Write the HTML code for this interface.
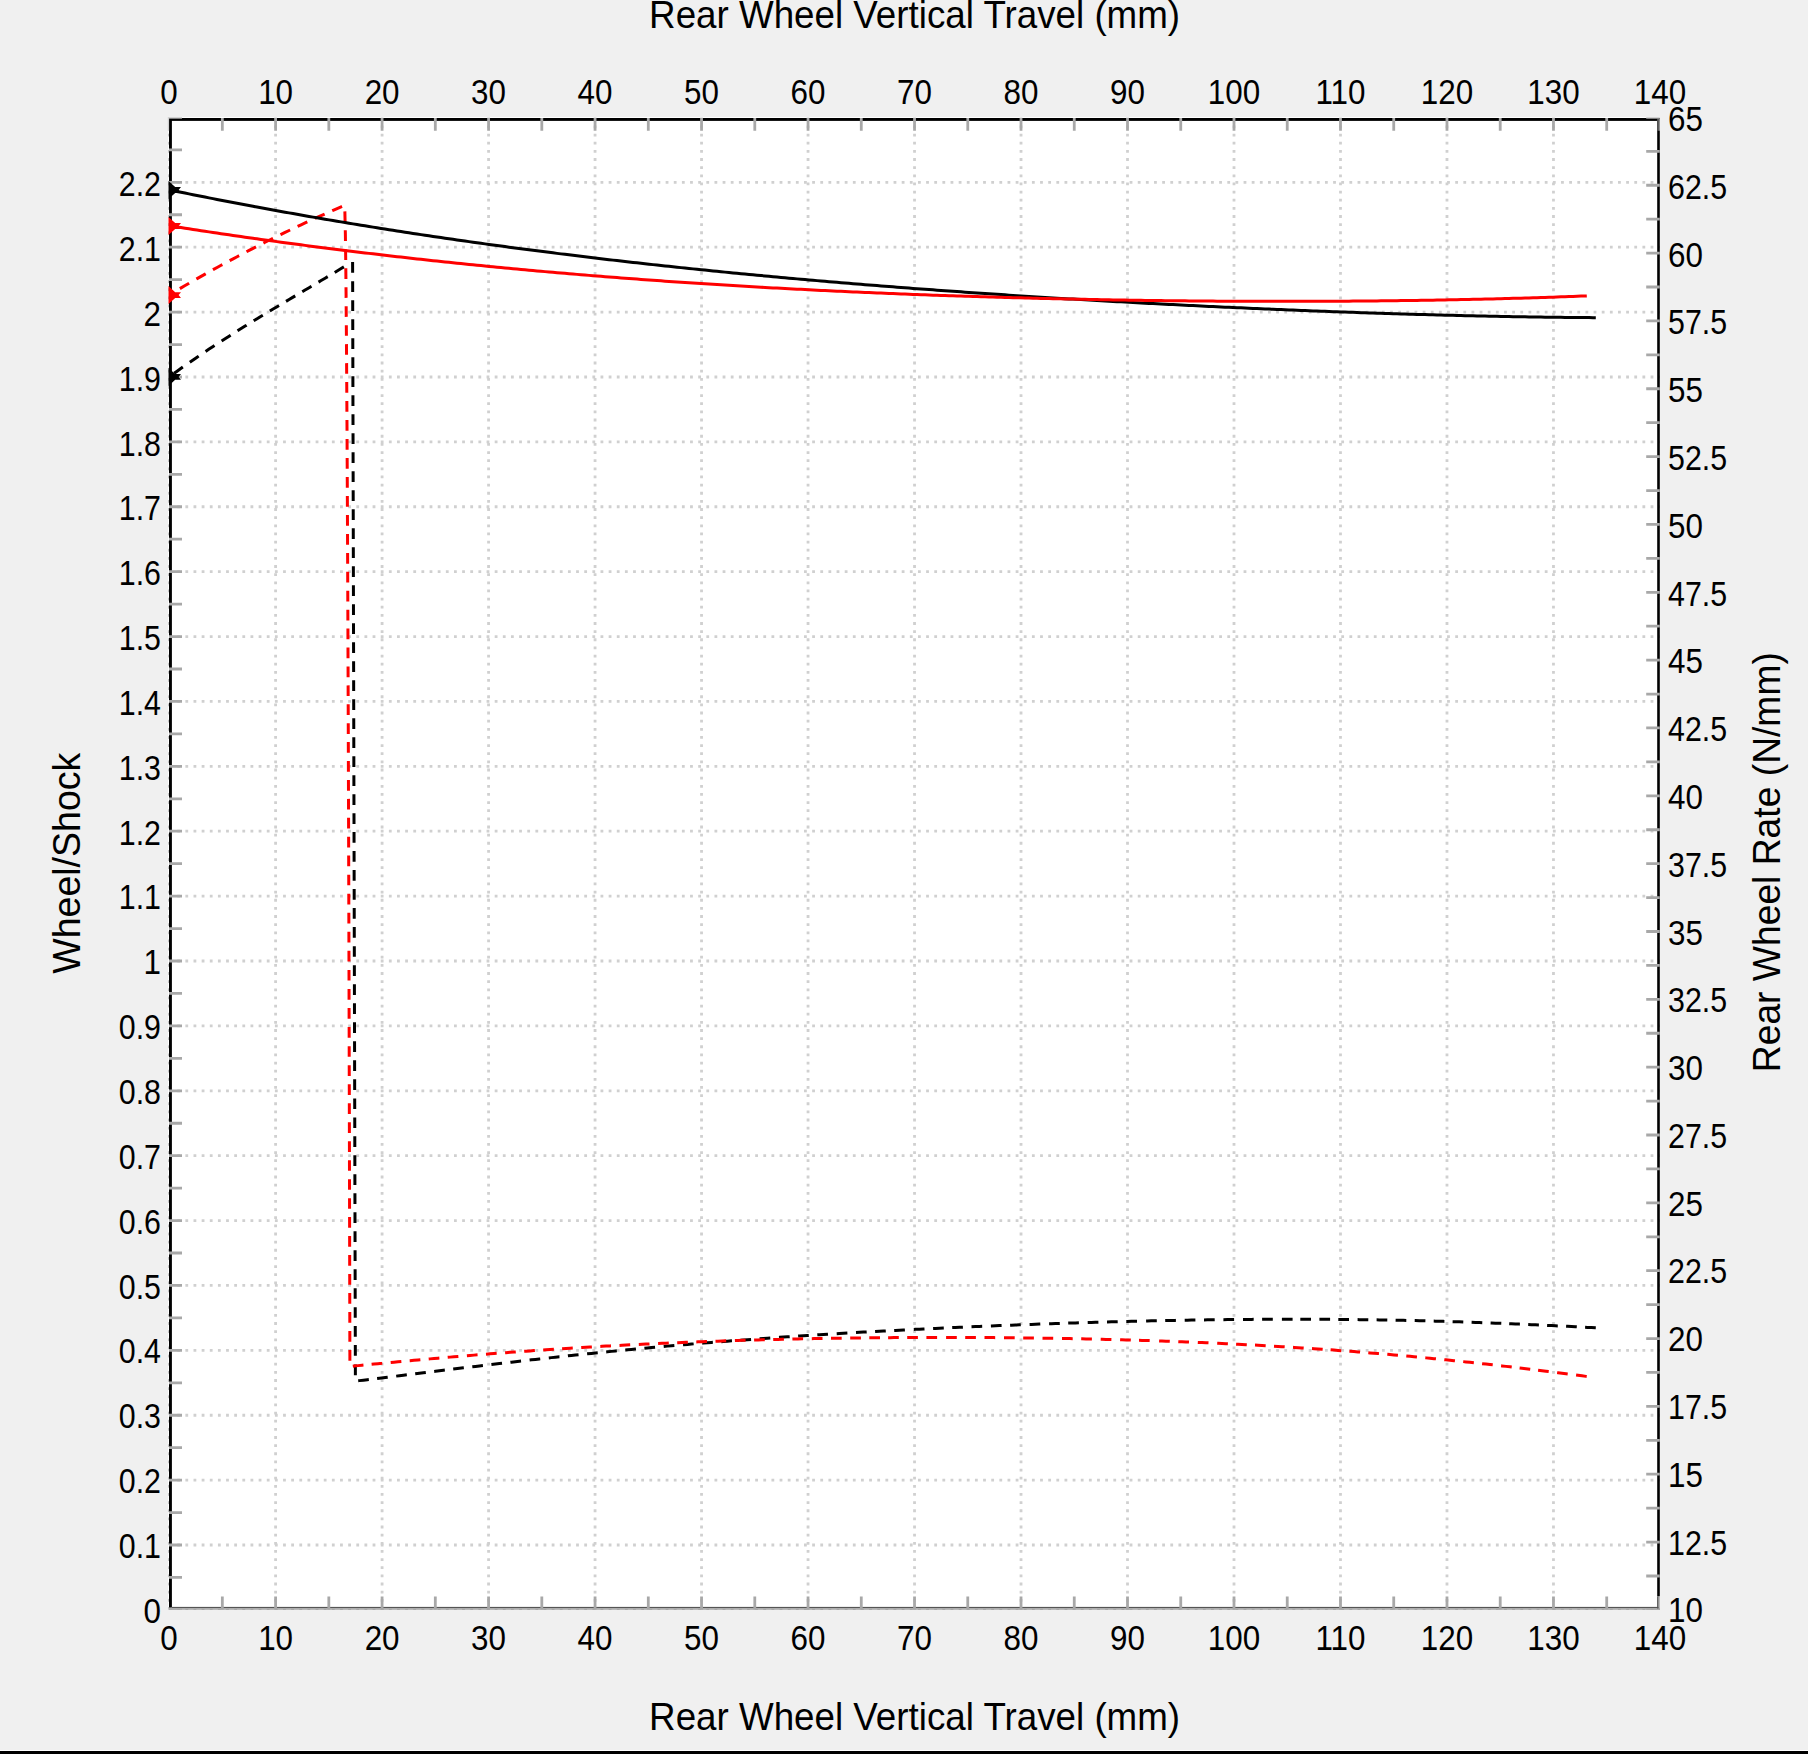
<!DOCTYPE html><html><head><meta charset="utf-8"><title>Rear Wheel Chart</title>
<style>html,body{margin:0;padding:0;background:#f0f0f0;overflow:hidden}svg{display:block}text{font-family:'Liberation Sans', Arial, sans-serif;fill:#000}</style></head><body>
<svg width="1808" height="1754" viewBox="0 0 1808 1754">
<defs><clipPath id="pc"><rect x="169.1" y="117.4" width="1490.9" height="1492.5"/></clipPath><clipPath id="tc"><rect x="160" y="117.4" width="1510" height="1492.4"/></clipPath><clipPath id="mc"><rect x="168.5" y="100" width="40" height="400"/></clipPath></defs>
<rect width="1808" height="1754" fill="#f0f0f0"/>
<rect x="0" y="1750" width="1808" height="1" fill="#ffffff"/>
<rect x="0" y="1751" width="1808" height="3" fill="#000000"/>
<rect x="168" y="117" width="1492.0" height="1492.9" fill="#ffffff"/>
<path d="M169.1 1545.01H1660.0M169.1 1480.12H1660.0M169.1 1415.23H1660.0M169.1 1350.34H1660.0M169.1 1285.45H1660.0M169.1 1220.56H1660.0M169.1 1155.67H1660.0M169.1 1090.78H1660.0M169.1 1025.89H1660.0M169.1 961.00H1660.0M169.1 896.11H1660.0M169.1 831.22H1660.0M169.1 766.33H1660.0M169.1 701.44H1660.0M169.1 636.55H1660.0M169.1 571.66H1660.0M169.1 506.77H1660.0M169.1 441.88H1660.0M169.1 376.99H1660.0M169.1 312.10H1660.0M169.1 247.21H1660.0M169.1 182.32H1660.0" stroke="#d0d0d0" stroke-width="2.8" stroke-dasharray="2.8 5.34" fill="none"/>
<path d="M275.59 117.4V1609.9M382.08 117.4V1609.9M488.57 117.4V1609.9M595.06 117.4V1609.9M701.55 117.4V1609.9M808.04 117.4V1609.9M914.53 117.4V1609.9M1021.02 117.4V1609.9M1127.51 117.4V1609.9M1234.00 117.4V1609.9M1340.49 117.4V1609.9M1446.98 117.4V1609.9M1553.47 117.4V1609.9" stroke="#d0d0d0" stroke-width="2.8" stroke-dasharray="2.8 5.34" fill="none"/>
<path d="M168.5 117.4V1609.9" stroke="#c4c4c4" stroke-width="1" stroke-dasharray="2.8 5.34" fill="none"/>
<path d="M169.1 1609.3H1660.0" stroke="#a8a8a8" stroke-width="1.2" stroke-dasharray="2.8 5.34" fill="none"/>
<rect x="172" y="1606.9" width="1486.7" height="1.2" fill="#555"/>
<rect x="169" y="1608.1" width="1490.8" height="1.7" fill="#a8a8a8"/>
<rect x="169" y="118" width="1490.8" height="2.9" fill="#000"/>
<rect x="169" y="118" width="2.9" height="1489.6" fill="#000"/>
<rect x="1657.2" y="118" width="2.6" height="1478.4" fill="#000"/>
<rect x="1657.1" y="1596.4" width="1.6" height="12.6" fill="#555"/>
<rect x="1658.7" y="1596.4" width="1.1" height="13.4" fill="#a8a8a8"/>
<rect x="167.8" y="117" width="1.3" height="13.8" fill="#d2d2d2"/>
<rect x="1657.1" y="118.7" width="1.6" height="12.1" fill="#555"/>
<rect x="1658.7" y="118.7" width="1.1" height="12.1" fill="#a8a8a8"/>
<g clip-path="url(#tc)"><path d="M222.34 118V130.8M222.34 1596.4V1609.8M275.59 118V130.8M275.59 1596.4V1609.8M328.83 118V130.8M328.83 1596.4V1609.8M382.08 118V130.8M382.08 1596.4V1609.8M435.32 118V130.8M435.32 1596.4V1609.8M488.57 118V130.8M488.57 1596.4V1609.8M541.81 118V130.8M541.81 1596.4V1609.8M595.06 118V130.8M595.06 1596.4V1609.8M648.30 118V130.8M648.30 1596.4V1609.8M701.55 118V130.8M701.55 1596.4V1609.8M754.79 118V130.8M754.79 1596.4V1609.8M808.04 118V130.8M808.04 1596.4V1609.8M861.28 118V130.8M861.28 1596.4V1609.8M914.53 118V130.8M914.53 1596.4V1609.8M967.77 118V130.8M967.77 1596.4V1609.8M1021.02 118V130.8M1021.02 1596.4V1609.8M1074.26 118V130.8M1074.26 1596.4V1609.8M1127.51 118V130.8M1127.51 1596.4V1609.8M1180.75 118V130.8M1180.75 1596.4V1609.8M1234.00 118V130.8M1234.00 1596.4V1609.8M1287.24 118V130.8M1287.24 1596.4V1609.8M1340.49 118V130.8M1340.49 1596.4V1609.8M1393.73 118V130.8M1393.73 1596.4V1609.8M1446.98 118V130.8M1446.98 1596.4V1609.8M1500.22 118V130.8M1500.22 1596.4V1609.8M1553.47 118V130.8M1553.47 1596.4V1609.8M1606.71 118V130.8M1606.71 1596.4V1609.8M169 1609.90H182M169 1577.46H182M169 1545.01H182M169 1512.57H182M169 1480.12H182M169 1447.68H182M169 1415.23H182M169 1382.79H182M169 1350.34H182M169 1317.89H182M169 1285.45H182M169 1253.01H182M169 1220.56H182M169 1188.12H182M169 1155.67H182M169 1123.23H182M169 1090.78H182M169 1058.34H182M169 1025.89H182M169 993.45H182M169 961.00H182M169 928.56H182M169 896.11H182M169 863.67H182M169 831.22H182M169 798.78H182M169 766.33H182M169 733.89H182M169 701.44H182M169 669.00H182M169 636.55H182M169 604.11H182M169 571.66H182M169 539.22H182M169 506.77H182M169 474.33H182M169 441.88H182M169 409.44H182M169 376.99H182M169 344.55H182M169 312.10H182M169 279.65H182M169 247.21H182M169 214.77H182M169 182.32H182M169 149.88H182M169 117.43H182M1646.2 1609.90H1659.8M1646.2 1575.98H1659.8M1646.2 1542.06H1659.8M1646.2 1508.14H1659.8M1646.2 1474.22H1659.8M1646.2 1440.30H1659.8M1646.2 1406.38H1659.8M1646.2 1372.46H1659.8M1646.2 1338.54H1659.8M1646.2 1304.62H1659.8M1646.2 1270.70H1659.8M1646.2 1236.78H1659.8M1646.2 1202.85H1659.8M1646.2 1168.93H1659.8M1646.2 1135.01H1659.8M1646.2 1101.09H1659.8M1646.2 1067.17H1659.8M1646.2 1033.25H1659.8M1646.2 999.33H1659.8M1646.2 965.41H1659.8M1646.2 931.49H1659.8M1646.2 897.57H1659.8M1646.2 863.65H1659.8M1646.2 829.73H1659.8M1646.2 795.81H1659.8M1646.2 761.89H1659.8M1646.2 727.97H1659.8M1646.2 694.05H1659.8M1646.2 660.13H1659.8M1646.2 626.21H1659.8M1646.2 592.29H1659.8M1646.2 558.37H1659.8M1646.2 524.45H1659.8M1646.2 490.53H1659.8M1646.2 456.60H1659.8M1646.2 422.68H1659.8M1646.2 388.76H1659.8M1646.2 354.84H1659.8M1646.2 320.92H1659.8M1646.2 287.00H1659.8M1646.2 253.08H1659.8M1646.2 219.16H1659.8M1646.2 185.24H1659.8M1646.2 151.32H1659.8M1646.2 117.40H1659.8" stroke="#a8a8a8" stroke-width="2.8" fill="none"/></g>
<g clip-path="url(#pc)" fill="none" stroke-width="3" stroke-linejoin="miter" stroke-miterlimit="3">
<path d="M174.14 373.32L177.10 371.18L181.10 368.32L182.84 367.09M189.83 362.19L193.10 359.93L197.10 357.18L198.65 356.13M205.58 351.46L209.10 349.12L213.10 346.48L214.50 345.56M221.60 340.95L225.10 338.69L229.10 336.14L230.61 335.18M237.53 330.82L241.10 328.59L245.10 326.10L246.62 325.16M253.68 320.83L257.10 318.73L261.10 316.30L262.82 315.26M269.82 311.04L273.10 309.07L277.10 306.68L279.00 305.54M286.03 301.35L289.10 299.53L293.10 297.16L295.23 295.89M302.27 291.72L305.10 290.05L309.10 287.68L311.48 286.27M318.52 282.09L321.10 280.56L325.10 278.18L327.71 276.62M334.73 272.42L337.10 271.00L341.10 268.59L343.90 266.90M352.60 262.00L352.63 272.70M352.65 281.30L352.68 292.00M352.70 300.29L352.72 310.99M352.74 319.28L352.77 329.98M352.79 338.28L352.82 348.98M352.84 357.27L352.87 367.97M352.89 376.26L352.91 386.96M352.93 395.25L352.96 405.95M352.98 414.24L353.01 424.94M353.03 433.23L353.06 443.93M353.08 452.23L353.10 462.93M353.12 471.22L353.15 481.92M353.17 490.21L353.20 500.91M353.22 509.20L353.25 519.90M353.27 528.20L353.29 538.90M353.31 547.20L353.34 557.90M353.36 566.20L353.39 576.90M353.41 585.20L353.44 595.90M353.46 604.20L353.48 614.90M353.50 623.20L353.53 633.90M353.55 642.20L353.58 652.90M353.60 661.20L353.63 671.90M353.65 680.20L353.67 690.90M353.69 699.20L353.72 709.90M353.74 718.20L353.77 728.90M353.79 737.20L353.82 747.90M353.84 756.20L353.86 766.90M353.88 775.20L353.91 785.90M353.93 794.20L353.96 804.90M353.98 813.20L354.01 823.90M354.03 832.00L354.05 842.70M354.07 851.00L354.10 861.70M354.12 870.03L354.15 880.73M354.17 889.06L354.20 899.76M354.22 908.09L354.24 918.79M354.26 927.12L354.29 937.82M354.31 946.15L354.34 956.85M354.36 965.18L354.39 975.88M354.41 984.22L354.43 994.92M354.46 1003.25L354.48 1013.95M354.50 1022.28L354.53 1032.98M354.55 1041.31L354.58 1052.01M354.60 1060.34L354.62 1071.04M354.65 1079.37L354.67 1090.07M354.69 1098.40L354.72 1109.10M354.74 1117.40L354.77 1128.10M354.79 1136.37L354.81 1147.07M354.84 1155.35L354.86 1166.05M354.88 1174.32L354.91 1185.02M354.93 1193.30L354.96 1204.00M354.98 1212.27L355.00 1222.97M355.03 1231.25L355.05 1241.95M355.07 1250.22L355.10 1260.92M355.12 1269.20L355.15 1279.90M355.17 1288.17L355.19 1298.87M355.22 1307.15L355.24 1317.85M355.26 1326.12L355.29 1336.82M355.31 1345.10L355.34 1355.80M355.36 1364.45L355.39 1375.15M358.20 1380.74L359.40 1380.63L363.40 1380.15L367.40 1379.66L368.82 1379.49M377.10 1378.48L379.40 1378.19L383.40 1377.70L387.40 1377.21L387.72 1377.17M396.20 1376.12L399.40 1375.72L403.40 1375.23L406.82 1374.81M415.20 1373.77L415.40 1373.74L419.40 1373.25L423.40 1372.75L425.82 1372.45M434.20 1371.42L435.40 1371.27L439.40 1370.78L443.40 1370.29L444.82 1370.11M453.20 1369.08L455.40 1368.82L459.40 1368.33L463.40 1367.84L463.82 1367.79M472.30 1366.77L475.40 1366.39L479.40 1365.91L482.92 1365.49M491.40 1364.48L495.40 1364.01L499.40 1363.54L502.03 1363.23M510.40 1362.26L511.40 1362.14L515.40 1361.68L519.40 1361.22L521.03 1361.03M529.60 1360.06L531.40 1359.86L535.40 1359.41L539.40 1358.96L540.23 1358.87M548.80 1357.92L551.40 1357.63L555.40 1357.19L559.40 1356.76L559.44 1356.76M567.90 1355.85L571.40 1355.47L575.40 1355.05L578.54 1354.72M587.10 1353.83L587.40 1353.80L591.40 1353.39L595.40 1352.98L597.74 1352.74M606.20 1351.89L607.40 1351.77L611.40 1351.37L615.40 1350.98L616.85 1350.84M625.30 1350.02L627.40 1349.82L631.40 1349.44L635.40 1349.06L635.95 1349.00M644.40 1348.22L647.40 1347.94L651.40 1347.57L655.06 1347.24M663.70 1346.46L667.40 1346.13L671.40 1345.78L674.36 1345.52M683.00 1344.78L683.40 1344.74L687.40 1344.40L691.40 1344.07L693.66 1343.88M702.20 1343.17L703.40 1343.07L707.40 1342.75L711.40 1342.42L712.87 1342.31M721.30 1341.64L723.40 1341.47L727.40 1341.16L731.40 1340.85L731.97 1340.81M740.40 1340.17L743.40 1339.94L747.40 1339.65L751.07 1339.38M759.60 1338.75L763.40 1338.48L767.40 1338.20L770.27 1338.00M779.00 1337.39L779.40 1337.36L783.40 1337.09L787.40 1336.82L789.68 1336.66M798.10 1336.10L799.40 1336.02L803.40 1335.76L807.40 1335.50L808.78 1335.41M817.30 1334.87L819.40 1334.73L823.40 1334.49L827.40 1334.24L827.98 1334.20M836.70 1333.67L839.40 1333.51L843.40 1333.27L847.38 1333.04M856.00 1332.54L859.40 1332.35L863.40 1332.12L866.68 1331.93M875.10 1331.47L875.40 1331.45L879.40 1331.23L883.40 1331.02L885.78 1330.89M894.20 1330.44L895.40 1330.38L899.40 1330.17L903.40 1329.97L904.89 1329.89M913.80 1329.44L915.40 1329.36L919.40 1329.16L923.40 1328.97L924.49 1328.92M933.10 1328.50L935.40 1328.39L939.40 1328.20L943.40 1328.02L943.79 1328.00M952.20 1327.61L955.40 1327.47L959.40 1327.29L962.89 1327.14M971.50 1326.76L975.40 1326.59L979.40 1326.42L982.19 1326.31M990.90 1325.95L991.40 1325.93L995.40 1325.76L999.40 1325.60L1001.59 1325.52M1010.10 1325.18L1011.40 1325.13L1015.40 1324.98L1019.40 1324.83L1020.79 1324.78M1029.60 1324.45L1031.40 1324.38L1035.40 1324.24L1039.40 1324.10L1040.29 1324.06M1049.10 1323.76L1051.40 1323.68L1055.40 1323.54L1059.40 1323.41L1059.79 1323.40M1068.20 1323.12L1071.40 1323.02L1075.40 1322.90L1078.89 1322.79M1087.70 1322.52L1091.40 1322.41L1095.40 1322.29L1098.40 1322.21M1107.00 1321.97L1107.40 1321.95L1111.40 1321.85L1115.40 1321.74L1117.70 1321.68M1126.30 1321.46L1127.40 1321.43L1131.40 1321.33L1135.40 1321.23L1137.00 1321.20M1146.10 1320.98L1147.40 1320.95L1151.40 1320.87L1155.40 1320.78L1156.80 1320.75M1165.20 1320.58L1167.40 1320.53L1171.40 1320.45L1175.40 1320.38L1175.90 1320.37M1184.70 1320.21L1187.40 1320.16L1191.40 1320.10L1195.40 1320.03M1204.00 1319.90L1207.40 1319.85L1211.40 1319.80L1214.70 1319.75M1223.40 1319.65L1227.40 1319.60L1231.40 1319.56L1234.10 1319.53M1243.00 1319.45L1243.40 1319.45L1247.40 1319.41L1251.40 1319.38L1253.70 1319.37M1262.10 1319.32L1263.40 1319.31L1267.40 1319.29L1271.40 1319.27L1272.80 1319.27M1281.90 1319.24L1283.40 1319.24L1287.40 1319.23L1291.40 1319.23L1292.60 1319.23M1300.30 1319.23L1303.40 1319.24L1307.40 1319.24L1311.00 1319.26M1319.40 1319.29L1323.40 1319.31L1327.40 1319.33L1330.10 1319.35M1338.30 1319.41L1339.40 1319.42L1343.40 1319.45L1347.40 1319.49L1349.00 1319.51M1357.60 1319.60L1359.40 1319.63L1363.40 1319.68L1367.40 1319.73L1368.30 1319.74M1376.60 1319.87L1379.40 1319.91L1383.40 1319.98L1387.30 1320.05M1395.60 1320.20L1399.40 1320.28L1403.40 1320.36L1406.30 1320.42M1414.70 1320.61L1415.40 1320.62L1419.40 1320.72L1423.40 1320.82L1425.40 1320.87M1433.70 1321.09L1435.40 1321.13L1439.40 1321.24L1443.40 1321.36L1444.40 1321.39M1452.60 1321.63L1455.40 1321.72L1459.40 1321.85L1463.29 1321.98M1471.60 1322.26L1475.40 1322.39L1479.40 1322.53L1482.29 1322.64M1490.60 1322.95L1491.40 1322.98L1495.40 1323.13L1499.40 1323.29L1501.29 1323.36M1509.20 1323.69L1511.40 1323.78L1515.40 1323.95L1519.40 1324.12L1519.89 1324.14M1528.20 1324.51L1531.40 1324.65L1535.40 1324.83L1538.89 1324.99M1547.10 1325.38L1547.40 1325.39L1551.40 1325.58L1555.40 1325.78L1557.79 1325.89M1566.10 1326.31L1567.40 1326.37L1571.40 1326.57L1575.40 1326.78L1576.79 1326.85M1585.10 1327.28L1587.40 1327.40L1591.40 1327.61L1595.40 1327.83L1595.79 1327.85" stroke="#000"/>
<path d="M169.10 295.01L172.73 292.84M179.88 288.62L181.10 287.90L185.10 285.57L189.10 283.25L189.13 283.23M196.38 279.07L197.10 278.66L201.10 276.39L205.10 274.14L205.70 273.81M212.97 269.76L213.10 269.69L217.10 267.48L221.10 265.30L222.35 264.62M229.68 260.66L233.10 258.83L237.10 256.70L239.12 255.64M246.50 251.78L249.10 250.43L253.10 248.36L256.01 246.88M263.43 243.11L265.10 242.27L269.10 240.27L273.00 238.33M280.47 234.67L281.10 234.36L285.10 232.42L289.10 230.49L290.11 230.01M297.62 226.44L301.10 224.80L305.10 222.93L307.32 221.91M314.88 218.43L317.10 217.42L321.10 215.61L324.63 214.02M332.23 210.64L333.10 210.26L337.10 208.51L341.10 206.77L342.04 206.36M344.86 211.40L345.10 222.10M345.28 230.20L345.39 234.98L345.47 240.90M345.58 249.40L345.72 260.10M345.81 268.20L345.92 278.90M346.00 287.18L346.08 294.54L346.10 297.88M346.17 306.17L346.26 316.87M346.33 325.15L346.41 335.85M346.47 344.13L346.54 354.10L346.55 354.83M346.60 363.12L346.67 373.82M346.73 382.10L346.74 383.88L346.79 392.80M346.84 401.08L346.91 411.78M346.96 420.07L347.02 430.77M347.06 439.05L347.09 443.44L347.12 449.75M347.16 458.03L347.22 468.73M347.26 477.02L347.31 487.72M347.35 496.00L347.38 502.99L347.40 506.70M347.44 515.10L347.49 525.80M347.53 534.02L347.57 544.72M347.61 552.94L347.65 562.55L347.65 563.64M347.69 571.86L347.73 582.56M347.77 590.77L347.77 592.33L347.81 601.47M347.84 609.69L347.88 620.39M347.92 628.61L347.96 639.31M347.99 647.53L348.00 651.89L348.03 658.23M348.06 666.45L348.10 677.15M348.12 685.37L348.16 696.07M348.19 704.29L348.22 711.45L348.23 714.99M348.26 723.21L348.29 733.91M348.32 742.12L348.35 752.82M348.38 761.04L348.41 771.01L348.42 771.74M348.44 779.96L348.48 790.66M348.50 798.88L348.51 800.79L348.53 809.58M348.56 817.80L348.59 828.50M348.62 836.80L348.65 847.50M348.67 855.60L348.69 860.35L348.70 866.30M348.73 874.65L348.76 885.35M348.78 893.71L348.81 904.41M348.84 912.76L348.86 919.91L348.87 923.46M348.89 931.81L348.92 942.51M348.94 950.87L348.97 961.57M348.99 969.92L349.02 979.47L349.02 980.62M349.04 988.98L349.07 999.68M349.09 1008.03L349.09 1009.25L349.12 1018.73M349.14 1027.08L349.17 1037.78M349.19 1046.14L349.21 1056.84M349.23 1065.19L349.24 1068.81L349.26 1075.89M349.28 1084.25L349.31 1094.95M349.33 1103.30L349.35 1114.00M349.37 1122.20L349.39 1128.36L349.40 1132.90M349.42 1141.18L349.44 1151.88M349.46 1160.17L349.48 1170.87M349.50 1179.15L349.52 1187.92L349.53 1189.85M349.54 1198.13L349.57 1208.83M349.59 1217.12L349.59 1217.70L349.61 1227.82M349.63 1236.10L349.65 1246.80M349.67 1255.08L349.69 1265.78M349.71 1274.07L349.72 1277.26L349.73 1284.77M349.75 1293.05L349.77 1303.75M349.79 1312.03L349.81 1322.73M349.83 1331.02L349.84 1336.82L349.85 1341.72M349.87 1350.00L349.89 1360.70M352.81 1366.18L354.00 1366.01L358.00 1365.62L362.00 1365.23L363.45 1365.09M371.60 1364.30L374.00 1364.06L378.00 1363.68L382.00 1363.30L382.25 1363.27M390.70 1362.47L394.00 1362.16L398.00 1361.79L401.35 1361.48M409.70 1360.70L410.00 1360.68L414.00 1360.31L418.00 1359.95L420.36 1359.74M428.70 1358.99L430.00 1358.87L434.00 1358.52L438.00 1358.17L439.36 1358.05M447.70 1357.33L450.00 1357.13L454.00 1356.79L458.00 1356.45L458.36 1356.42M466.90 1355.71L470.00 1355.46L474.00 1355.13L477.56 1354.84M486.00 1354.17L490.00 1353.86L494.00 1353.55L496.67 1353.34M505.10 1352.70L506.00 1352.63L510.00 1352.33L514.00 1352.04L515.77 1351.91M524.20 1351.30L526.00 1351.17L530.00 1350.89L534.00 1350.61L534.87 1350.55M543.20 1349.98L546.00 1349.79L550.00 1349.52L553.88 1349.26M562.10 1348.73L566.00 1348.48L570.00 1348.23L572.78 1348.06M581.20 1347.55L582.00 1347.50L586.00 1347.26L590.00 1347.02L591.88 1346.92M600.30 1346.43L602.00 1346.34L606.00 1346.12L610.00 1345.90L610.98 1345.84M619.50 1345.39L622.00 1345.26L626.00 1345.05L630.00 1344.85L630.19 1344.84M638.80 1344.41L642.00 1344.26L646.00 1344.07L649.49 1343.90M658.10 1343.51L662.00 1343.33L666.00 1343.15L668.79 1343.03M677.20 1342.68L678.00 1342.64L682.00 1342.48L686.00 1342.32L687.89 1342.24M696.30 1341.92L698.00 1341.85L702.00 1341.70L706.00 1341.56L706.99 1341.52M715.50 1341.22L718.00 1341.13L722.00 1341.00L726.00 1340.87L726.19 1340.86M734.90 1340.58L738.00 1340.48L742.00 1340.36L745.60 1340.26M754.10 1340.01L758.00 1339.90L762.00 1339.79L764.80 1339.72M773.20 1339.50L774.00 1339.48L778.00 1339.39L782.00 1339.29L783.90 1339.25M792.40 1339.06L794.00 1339.02L798.00 1338.93L802.00 1338.85L803.10 1338.83M811.80 1338.66L814.00 1338.62L818.00 1338.54L822.00 1338.47L822.50 1338.47M831.00 1338.32L834.00 1338.28L838.00 1338.22L841.70 1338.16M850.20 1338.04L854.00 1338.00L858.00 1337.95L860.90 1337.91M869.30 1337.82L870.00 1337.81L874.00 1337.77L878.00 1337.73L880.00 1337.72M888.10 1337.65L890.00 1337.64L894.00 1337.61L898.00 1337.58L898.80 1337.58M907.20 1337.53L910.00 1337.51L914.00 1337.50L917.90 1337.48M926.40 1337.46L930.00 1337.45L934.00 1337.44L937.10 1337.44M946.10 1337.44L950.00 1337.44L954.00 1337.45L956.80 1337.45M965.20 1337.47L966.00 1337.48L970.00 1337.49L974.00 1337.51L975.90 1337.52M984.50 1337.56L986.00 1337.57L990.00 1337.60L994.00 1337.62L995.20 1337.63M1004.00 1337.70L1006.00 1337.72L1010.00 1337.76L1014.00 1337.80L1014.70 1337.81M1023.20 1337.90L1026.00 1337.93L1030.00 1337.98L1033.90 1338.03M1042.50 1338.15L1046.00 1338.20L1050.00 1338.26L1053.20 1338.31M1062.00 1338.46L1066.00 1338.53L1070.00 1338.60L1072.70 1338.66M1081.20 1338.82L1082.00 1338.84L1086.00 1338.92L1090.00 1339.01L1091.90 1339.05M1100.70 1339.26L1102.00 1339.29L1106.00 1339.38L1110.00 1339.48L1111.40 1339.52M1120.10 1339.75L1122.00 1339.80L1126.00 1339.91L1130.00 1340.02L1130.80 1340.05M1139.00 1340.29L1142.00 1340.38L1146.00 1340.51L1149.69 1340.62M1159.10 1340.94L1162.00 1341.04L1166.00 1341.18L1169.79 1341.31M1178.30 1341.63L1182.00 1341.77L1186.00 1341.92L1188.99 1342.04M1197.80 1342.40L1198.00 1342.41L1202.00 1342.58L1206.00 1342.75L1208.49 1342.86M1217.20 1343.24L1218.00 1343.28L1222.00 1343.47L1226.00 1343.65L1227.89 1343.74M1236.10 1344.14L1238.00 1344.24L1242.00 1344.44L1246.00 1344.65L1246.79 1344.69M1255.00 1345.12L1258.00 1345.28L1262.00 1345.50L1265.68 1345.71M1274.00 1346.19L1278.00 1346.42L1282.00 1346.66L1284.68 1346.82M1293.00 1347.33L1294.00 1347.39L1298.00 1347.65L1302.00 1347.91L1303.68 1348.01M1312.00 1348.57L1314.00 1348.70L1318.00 1348.97L1322.00 1349.25L1322.68 1349.30M1330.60 1349.86L1334.00 1350.10L1338.00 1350.39L1341.27 1350.64M1349.40 1351.25L1350.00 1351.30L1354.00 1351.61L1358.00 1351.92L1360.07 1352.08M1368.30 1352.74L1370.00 1352.88L1374.00 1353.21L1378.00 1353.54L1378.96 1353.62M1387.30 1354.33L1390.00 1354.57L1394.00 1354.92L1397.96 1355.27M1406.30 1356.02L1410.00 1356.36L1414.00 1356.73L1416.95 1357.01M1425.30 1357.80L1426.00 1357.87L1430.00 1358.25L1434.00 1358.64L1435.95 1358.84M1444.30 1359.67L1446.00 1359.84L1450.00 1360.25L1454.00 1360.66L1454.94 1360.76M1463.20 1361.63L1466.00 1361.92L1470.00 1362.35L1473.84 1362.77M1482.10 1363.67L1486.00 1364.11L1490.00 1364.55L1492.73 1364.86M1501.10 1365.82L1502.00 1365.92L1506.00 1366.38L1510.00 1366.85L1511.73 1367.06M1519.60 1367.99L1522.00 1368.28L1526.00 1368.76L1530.00 1369.24L1530.22 1369.27M1538.10 1370.24L1542.00 1370.72L1546.00 1371.22L1548.72 1371.56M1557.10 1372.62L1558.00 1372.73L1562.00 1373.25L1566.00 1373.76L1567.71 1373.98M1576.10 1375.07L1578.00 1375.32L1582.00 1375.85L1586.00 1376.38L1586.71 1376.47" stroke="#ff0000"/>
<path d="M169.00 189.80 L173.00 190.63 L177.00 191.44 L181.00 192.26 L185.00 193.07 L189.00 193.88 L193.00 194.68 L197.00 195.48 L201.00 196.28 L205.00 197.07 L209.00 197.86 L213.00 198.65 L217.00 199.43 L221.00 200.21 L225.00 200.98 L229.00 201.75 L233.00 202.52 L237.00 203.28 L241.00 204.04 L245.00 204.80 L249.00 205.55 L253.00 206.30 L257.00 207.04 L261.00 207.79 L265.00 208.52 L269.00 209.26 L273.00 209.99 L277.00 210.72 L281.00 211.44 L285.00 212.16 L289.00 212.88 L293.00 213.59 L297.00 214.30 L301.00 215.01 L305.00 215.71 L309.00 216.41 L313.00 217.11 L317.00 217.80 L321.00 218.49 L325.00 219.17 L329.00 219.86 L333.00 220.53 L337.00 221.21 L341.00 221.88 L345.00 222.55 L349.00 223.21 L353.00 223.88 L357.00 224.53 L361.00 225.19 L365.00 225.84 L369.00 226.49 L373.00 227.13 L377.00 227.77 L381.00 228.41 L385.00 229.05 L389.00 229.68 L393.00 230.31 L397.00 230.93 L401.00 231.55 L405.00 232.17 L409.00 232.79 L413.00 233.40 L417.00 234.01 L421.00 234.61 L425.00 235.22 L429.00 235.81 L433.00 236.41 L437.00 237.00 L441.00 237.59 L445.00 238.18 L449.00 238.76 L453.00 239.34 L457.00 239.92 L461.00 240.49 L465.00 241.06 L469.00 241.63 L473.00 242.20 L477.00 242.76 L481.00 243.32 L485.00 243.87 L489.00 244.42 L493.00 244.97 L497.00 245.52 L501.00 246.06 L505.00 246.60 L509.00 247.14 L513.00 247.68 L517.00 248.21 L521.00 248.74 L525.00 249.26 L529.00 249.79 L533.00 250.31 L537.00 250.82 L541.00 251.34 L545.00 251.85 L549.00 252.36 L553.00 252.86 L557.00 253.37 L561.00 253.87 L565.00 254.36 L569.00 254.86 L573.00 255.35 L577.00 255.84 L581.00 256.33 L585.00 256.81 L589.00 257.29 L593.00 257.77 L597.00 258.24 L601.00 258.72 L605.00 259.19 L609.00 259.65 L613.00 260.12 L617.00 260.58 L621.00 261.04 L625.00 261.50 L629.00 261.95 L633.00 262.40 L637.00 262.85 L641.00 263.30 L645.00 263.74 L649.00 264.19 L653.00 264.63 L657.00 265.06 L661.00 265.50 L665.00 265.93 L669.00 266.36 L673.00 266.78 L677.00 267.21 L681.00 267.63 L685.00 268.05 L689.00 268.47 L693.00 268.88 L697.00 269.30 L701.00 269.71 L705.00 270.11 L709.00 270.52 L713.00 270.92 L717.00 271.32 L721.00 271.72 L725.00 272.12 L729.00 272.51 L733.00 272.90 L737.00 273.29 L741.00 273.68 L745.00 274.06 L749.00 274.45 L753.00 274.83 L757.00 275.21 L761.00 275.58 L765.00 275.96 L769.00 276.33 L773.00 276.70 L777.00 277.07 L781.00 277.43 L785.00 277.79 L789.00 278.16 L793.00 278.51 L797.00 278.87 L801.00 279.23 L805.00 279.58 L809.00 279.93 L813.00 280.28 L817.00 280.63 L821.00 280.97 L825.00 281.32 L829.00 281.66 L833.00 282.00 L837.00 282.33 L841.00 282.67 L845.00 283.00 L849.00 283.33 L853.00 283.66 L857.00 283.99 L861.00 284.31 L865.00 284.64 L869.00 284.96 L873.00 285.28 L877.00 285.60 L881.00 285.91 L885.00 286.23 L889.00 286.54 L893.00 286.85 L897.00 287.16 L901.00 287.47 L905.00 287.77 L909.00 288.08 L913.00 288.38 L917.00 288.68 L921.00 288.98 L925.00 289.28 L929.00 289.57 L933.00 289.86 L937.00 290.16 L941.00 290.45 L945.00 290.73 L949.00 291.02 L953.00 291.31 L957.00 291.59 L961.00 291.87 L965.00 292.15 L969.00 292.43 L973.00 292.71 L977.00 292.98 L981.00 293.25 L985.00 293.53 L989.00 293.80 L993.00 294.07 L997.00 294.33 L1001.00 294.60 L1005.00 294.86 L1009.00 295.13 L1013.00 295.39 L1017.00 295.65 L1021.00 295.90 L1025.00 296.16 L1029.00 296.41 L1033.00 296.67 L1037.00 296.92 L1041.00 297.17 L1045.00 297.42 L1049.00 297.67 L1053.00 297.91 L1057.00 298.16 L1061.00 298.40 L1065.00 298.64 L1069.00 298.88 L1073.00 299.12 L1077.00 299.36 L1081.00 299.59 L1085.00 299.83 L1089.00 300.06 L1093.00 300.29 L1097.00 300.52 L1101.00 300.75 L1105.00 300.98 L1109.00 301.20 L1113.00 301.43 L1117.00 301.65 L1121.00 301.87 L1125.00 302.09 L1129.00 302.31 L1133.00 302.53 L1137.00 302.74 L1141.00 302.96 L1145.00 303.17 L1149.00 303.38 L1153.00 303.59 L1157.00 303.80 L1161.00 304.01 L1165.00 304.21 L1169.00 304.42 L1173.00 304.62 L1177.00 304.83 L1181.00 305.03 L1185.00 305.23 L1189.00 305.42 L1193.00 305.62 L1197.00 305.82 L1201.00 306.01 L1205.00 306.20 L1209.00 306.39 L1213.00 306.58 L1217.00 306.77 L1221.00 306.96 L1225.00 307.14 L1229.00 307.33 L1233.00 307.51 L1237.00 307.69 L1241.00 307.87 L1245.00 308.05 L1249.00 308.23 L1253.00 308.41 L1257.00 308.58 L1261.00 308.76 L1265.00 308.93 L1269.00 309.10 L1273.00 309.27 L1277.00 309.44 L1281.00 309.60 L1285.00 309.77 L1289.00 309.93 L1293.00 310.09 L1297.00 310.25 L1301.00 310.41 L1305.00 310.57 L1309.00 310.73 L1313.00 310.88 L1317.00 311.04 L1321.00 311.19 L1325.00 311.34 L1329.00 311.49 L1333.00 311.64 L1337.00 311.78 L1341.00 311.93 L1345.00 312.07 L1349.00 312.21 L1353.00 312.35 L1357.00 312.49 L1361.00 312.63 L1365.00 312.77 L1369.00 312.90 L1373.00 313.04 L1377.00 313.17 L1381.00 313.30 L1385.00 313.42 L1389.00 313.55 L1393.00 313.68 L1397.00 313.80 L1401.00 313.92 L1405.00 314.04 L1409.00 314.16 L1413.00 314.28 L1417.00 314.39 L1421.00 314.51 L1425.00 314.62 L1429.00 314.73 L1433.00 314.84 L1437.00 314.95 L1441.00 315.05 L1445.00 315.16 L1449.00 315.26 L1453.00 315.36 L1457.00 315.46 L1461.00 315.55 L1465.00 315.65 L1469.00 315.74 L1473.00 315.83 L1477.00 315.92 L1481.00 316.01 L1485.00 316.10 L1489.00 316.18 L1493.00 316.26 L1497.00 316.34 L1501.00 316.42 L1505.00 316.50 L1509.00 316.57 L1513.00 316.64 L1517.00 316.71 L1521.00 316.78 L1525.00 316.85 L1529.00 316.91 L1533.00 316.97 L1537.00 317.04 L1541.00 317.09 L1545.00 317.15 L1549.00 317.20 L1553.00 317.25 L1557.00 317.30 L1561.00 317.35 L1565.00 317.40 L1569.00 317.44 L1573.00 317.48 L1577.00 317.52 L1581.00 317.55 L1585.00 317.59 L1589.00 317.62 L1593.00 317.65 L1595.80 317.67" stroke="#000"/>
<path d="M169.00 225.73 L173.00 226.36 L177.00 226.98 L181.00 227.60 L185.00 228.22 L189.00 228.84 L193.00 229.45 L197.00 230.06 L201.00 230.67 L205.00 231.28 L209.00 231.88 L213.00 232.47 L217.00 233.07 L221.00 233.66 L225.00 234.25 L229.00 234.83 L233.00 235.42 L237.00 236.00 L241.00 236.57 L245.00 237.14 L249.00 237.71 L253.00 238.28 L257.00 238.84 L261.00 239.41 L265.00 239.96 L269.00 240.52 L273.00 241.07 L277.00 241.62 L281.00 242.16 L285.00 242.70 L289.00 243.24 L293.00 243.78 L297.00 244.31 L301.00 244.84 L305.00 245.37 L309.00 245.89 L313.00 246.41 L317.00 246.93 L321.00 247.44 L325.00 247.95 L329.00 248.46 L333.00 248.97 L337.00 249.47 L341.00 249.97 L345.00 250.47 L349.00 250.96 L353.00 251.45 L357.00 251.94 L361.00 252.42 L365.00 252.90 L369.00 253.38 L373.00 253.86 L377.00 254.33 L381.00 254.80 L385.00 255.27 L389.00 255.73 L393.00 256.19 L397.00 256.65 L401.00 257.11 L405.00 257.56 L409.00 258.01 L413.00 258.45 L417.00 258.90 L421.00 259.34 L425.00 259.78 L429.00 260.21 L433.00 260.64 L437.00 261.07 L441.00 261.50 L445.00 261.92 L449.00 262.34 L453.00 262.76 L457.00 263.18 L461.00 263.59 L465.00 264.00 L469.00 264.41 L473.00 264.81 L477.00 265.21 L481.00 265.61 L485.00 266.01 L489.00 266.40 L493.00 266.79 L497.00 267.18 L501.00 267.56 L505.00 267.95 L509.00 268.33 L513.00 268.70 L517.00 269.08 L521.00 269.45 L525.00 269.82 L529.00 270.18 L533.00 270.55 L537.00 270.91 L541.00 271.27 L545.00 271.62 L549.00 271.98 L553.00 272.33 L557.00 272.67 L561.00 273.02 L565.00 273.36 L569.00 273.70 L573.00 274.04 L577.00 274.38 L581.00 274.71 L585.00 275.04 L589.00 275.37 L593.00 275.69 L597.00 276.01 L601.00 276.33 L605.00 276.65 L609.00 276.97 L613.00 277.28 L617.00 277.59 L621.00 277.90 L625.00 278.20 L629.00 278.51 L633.00 278.81 L637.00 279.11 L641.00 279.40 L645.00 279.69 L649.00 279.99 L653.00 280.27 L657.00 280.56 L661.00 280.84 L665.00 281.13 L669.00 281.41 L673.00 281.68 L677.00 281.96 L681.00 282.23 L685.00 282.50 L689.00 282.77 L693.00 283.03 L697.00 283.30 L701.00 283.56 L705.00 283.81 L709.00 284.07 L713.00 284.33 L717.00 284.58 L721.00 284.83 L725.00 285.08 L729.00 285.32 L733.00 285.56 L737.00 285.80 L741.00 286.04 L745.00 286.28 L749.00 286.51 L753.00 286.75 L757.00 286.98 L761.00 287.21 L765.00 287.43 L769.00 287.66 L773.00 287.88 L777.00 288.10 L781.00 288.32 L785.00 288.53 L789.00 288.74 L793.00 288.96 L797.00 289.17 L801.00 289.37 L805.00 289.58 L809.00 289.78 L813.00 289.98 L817.00 290.18 L821.00 290.38 L825.00 290.58 L829.00 290.77 L833.00 290.96 L837.00 291.15 L841.00 291.34 L845.00 291.52 L849.00 291.71 L853.00 291.89 L857.00 292.07 L861.00 292.25 L865.00 292.42 L869.00 292.60 L873.00 292.77 L877.00 292.94 L881.00 293.11 L885.00 293.27 L889.00 293.44 L893.00 293.60 L897.00 293.76 L901.00 293.92 L905.00 294.08 L909.00 294.23 L913.00 294.39 L917.00 294.54 L921.00 294.69 L925.00 294.84 L929.00 294.99 L933.00 295.13 L937.00 295.27 L941.00 295.41 L945.00 295.55 L949.00 295.69 L953.00 295.83 L957.00 295.96 L961.00 296.09 L965.00 296.22 L969.00 296.35 L973.00 296.48 L977.00 296.61 L981.00 296.73 L985.00 296.85 L989.00 296.97 L993.00 297.09 L997.00 297.21 L1001.00 297.32 L1005.00 297.44 L1009.00 297.55 L1013.00 297.66 L1017.00 297.77 L1021.00 297.87 L1025.00 297.98 L1029.00 298.08 L1033.00 298.19 L1037.00 298.29 L1041.00 298.38 L1045.00 298.48 L1049.00 298.58 L1053.00 298.67 L1057.00 298.76 L1061.00 298.85 L1065.00 298.94 L1069.00 299.03 L1073.00 299.11 L1077.00 299.20 L1081.00 299.28 L1085.00 299.36 L1089.00 299.44 L1093.00 299.52 L1097.00 299.59 L1101.00 299.67 L1105.00 299.74 L1109.00 299.81 L1113.00 299.88 L1117.00 299.95 L1121.00 300.02 L1125.00 300.08 L1129.00 300.14 L1133.00 300.21 L1137.00 300.27 L1141.00 300.32 L1145.00 300.38 L1149.00 300.44 L1153.00 300.49 L1157.00 300.54 L1161.00 300.59 L1165.00 300.64 L1169.00 300.69 L1173.00 300.74 L1177.00 300.78 L1181.00 300.82 L1185.00 300.86 L1189.00 300.90 L1193.00 300.94 L1197.00 300.98 L1201.00 301.01 L1205.00 301.04 L1209.00 301.07 L1213.00 301.10 L1217.00 301.13 L1221.00 301.16 L1225.00 301.18 L1229.00 301.21 L1233.00 301.23 L1237.00 301.25 L1241.00 301.27 L1245.00 301.28 L1249.00 301.30 L1253.00 301.31 L1257.00 301.33 L1261.00 301.34 L1265.00 301.34 L1269.00 301.35 L1273.00 301.36 L1277.00 301.36 L1281.00 301.36 L1285.00 301.36 L1289.00 301.36 L1293.00 301.36 L1297.00 301.35 L1301.00 301.35 L1305.00 301.34 L1309.00 301.33 L1313.00 301.32 L1317.00 301.30 L1321.00 301.29 L1325.00 301.27 L1329.00 301.25 L1333.00 301.23 L1337.00 301.21 L1341.00 301.19 L1345.00 301.16 L1349.00 301.14 L1353.00 301.11 L1357.00 301.08 L1361.00 301.04 L1365.00 301.01 L1369.00 300.97 L1373.00 300.94 L1377.00 300.90 L1381.00 300.85 L1385.00 300.81 L1389.00 300.76 L1393.00 300.72 L1397.00 300.67 L1401.00 300.62 L1405.00 300.56 L1409.00 300.51 L1413.00 300.45 L1417.00 300.39 L1421.00 300.33 L1425.00 300.27 L1429.00 300.20 L1433.00 300.14 L1437.00 300.07 L1441.00 300.00 L1445.00 299.92 L1449.00 299.85 L1453.00 299.77 L1457.00 299.69 L1461.00 299.61 L1465.00 299.53 L1469.00 299.44 L1473.00 299.35 L1477.00 299.26 L1481.00 299.17 L1485.00 299.08 L1489.00 298.98 L1493.00 298.88 L1497.00 298.78 L1501.00 298.68 L1505.00 298.57 L1509.00 298.47 L1513.00 298.36 L1517.00 298.24 L1521.00 298.13 L1525.00 298.01 L1529.00 297.89 L1533.00 297.77 L1537.00 297.65 L1541.00 297.52 L1545.00 297.39 L1549.00 297.26 L1553.00 297.13 L1557.00 296.99 L1561.00 296.85 L1565.00 296.71 L1569.00 296.56 L1573.00 296.42 L1577.00 296.27 L1581.00 296.12 L1585.00 295.96 L1586.80 295.89" stroke="#ff0000"/>
</g>
<g clip-path="url(#mc)">
<polygon points="160.0,178.0 168.5,181.0 175.2,187.1 181.0,187.1 178.6,190.0 181.0,192.9 175.2,192.9 168.5,199.0 160.0,202.0" fill="#000"/>
<polygon points="160.0,214.0 168.5,217.0 175.2,223.1 181.0,223.1 178.6,226.0 181.0,228.9 175.2,228.9 168.5,235.0 160.0,238.0" fill="#ff0000"/>
<polygon points="160.0,283.1 168.5,286.1 175.2,292.2 181.0,292.2 178.6,295.1 181.0,298.0 175.2,298.0 168.5,304.1 160.0,307.1" fill="#ff0000"/>
<polygon points="160.0,364.9 168.5,367.9 175.2,374.0 181.0,374.0 178.6,376.9 181.0,379.8 175.2,379.8 168.5,385.9 160.0,388.9" fill="#000"/>
</g>
<text transform="translate(169.10 104.00) scale(0.915 1)" font-size="34.3" text-anchor="middle">0</text><text transform="translate(169.10 1650.30) scale(0.915 1)" font-size="34.3" text-anchor="middle">0</text><text transform="translate(275.59 104.00) scale(0.915 1)" font-size="34.3" text-anchor="middle">10</text><text transform="translate(275.59 1650.30) scale(0.915 1)" font-size="34.3" text-anchor="middle">10</text><text transform="translate(382.08 104.00) scale(0.915 1)" font-size="34.3" text-anchor="middle">20</text><text transform="translate(382.08 1650.30) scale(0.915 1)" font-size="34.3" text-anchor="middle">20</text><text transform="translate(488.57 104.00) scale(0.915 1)" font-size="34.3" text-anchor="middle">30</text><text transform="translate(488.57 1650.30) scale(0.915 1)" font-size="34.3" text-anchor="middle">30</text><text transform="translate(595.06 104.00) scale(0.915 1)" font-size="34.3" text-anchor="middle">40</text><text transform="translate(595.06 1650.30) scale(0.915 1)" font-size="34.3" text-anchor="middle">40</text><text transform="translate(701.55 104.00) scale(0.915 1)" font-size="34.3" text-anchor="middle">50</text><text transform="translate(701.55 1650.30) scale(0.915 1)" font-size="34.3" text-anchor="middle">50</text><text transform="translate(808.04 104.00) scale(0.915 1)" font-size="34.3" text-anchor="middle">60</text><text transform="translate(808.04 1650.30) scale(0.915 1)" font-size="34.3" text-anchor="middle">60</text><text transform="translate(914.53 104.00) scale(0.915 1)" font-size="34.3" text-anchor="middle">70</text><text transform="translate(914.53 1650.30) scale(0.915 1)" font-size="34.3" text-anchor="middle">70</text><text transform="translate(1021.02 104.00) scale(0.915 1)" font-size="34.3" text-anchor="middle">80</text><text transform="translate(1021.02 1650.30) scale(0.915 1)" font-size="34.3" text-anchor="middle">80</text><text transform="translate(1127.51 104.00) scale(0.915 1)" font-size="34.3" text-anchor="middle">90</text><text transform="translate(1127.51 1650.30) scale(0.915 1)" font-size="34.3" text-anchor="middle">90</text><text transform="translate(1234.00 104.00) scale(0.915 1)" font-size="34.3" text-anchor="middle">100</text><text transform="translate(1234.00 1650.30) scale(0.915 1)" font-size="34.3" text-anchor="middle">100</text><text transform="translate(1340.49 104.00) scale(0.915 1)" font-size="34.3" text-anchor="middle">110</text><text transform="translate(1340.49 1650.30) scale(0.915 1)" font-size="34.3" text-anchor="middle">110</text><text transform="translate(1446.98 104.00) scale(0.915 1)" font-size="34.3" text-anchor="middle">120</text><text transform="translate(1446.98 1650.30) scale(0.915 1)" font-size="34.3" text-anchor="middle">120</text><text transform="translate(1553.47 104.00) scale(0.915 1)" font-size="34.3" text-anchor="middle">130</text><text transform="translate(1553.47 1650.30) scale(0.915 1)" font-size="34.3" text-anchor="middle">130</text><text transform="translate(1659.96 104.00) scale(0.915 1)" font-size="34.3" text-anchor="middle">140</text><text transform="translate(1659.96 1650.30) scale(0.915 1)" font-size="34.3" text-anchor="middle">140</text><text transform="translate(161.00 1622.70) scale(0.915 1)" font-size="34.3" text-anchor="end">0</text><text transform="translate(161.00 1557.86) scale(0.885 1)" font-size="34.3" text-anchor="end">0.1</text><text transform="translate(161.00 1493.02) scale(0.885 1)" font-size="34.3" text-anchor="end">0.2</text><text transform="translate(161.00 1428.18) scale(0.885 1)" font-size="34.3" text-anchor="end">0.3</text><text transform="translate(161.00 1363.34) scale(0.885 1)" font-size="34.3" text-anchor="end">0.4</text><text transform="translate(161.00 1298.50) scale(0.885 1)" font-size="34.3" text-anchor="end">0.5</text><text transform="translate(161.00 1233.66) scale(0.885 1)" font-size="34.3" text-anchor="end">0.6</text><text transform="translate(161.00 1168.82) scale(0.885 1)" font-size="34.3" text-anchor="end">0.7</text><text transform="translate(161.00 1103.98) scale(0.885 1)" font-size="34.3" text-anchor="end">0.8</text><text transform="translate(161.00 1039.14) scale(0.885 1)" font-size="34.3" text-anchor="end">0.9</text><text transform="translate(161.00 974.30) scale(0.915 1)" font-size="34.3" text-anchor="end">1</text><text transform="translate(161.00 909.46) scale(0.885 1)" font-size="34.3" text-anchor="end">1.1</text><text transform="translate(161.00 844.62) scale(0.885 1)" font-size="34.3" text-anchor="end">1.2</text><text transform="translate(161.00 779.78) scale(0.885 1)" font-size="34.3" text-anchor="end">1.3</text><text transform="translate(161.00 714.94) scale(0.885 1)" font-size="34.3" text-anchor="end">1.4</text><text transform="translate(161.00 650.10) scale(0.885 1)" font-size="34.3" text-anchor="end">1.5</text><text transform="translate(161.00 585.26) scale(0.885 1)" font-size="34.3" text-anchor="end">1.6</text><text transform="translate(161.00 520.42) scale(0.885 1)" font-size="34.3" text-anchor="end">1.7</text><text transform="translate(161.00 455.58) scale(0.885 1)" font-size="34.3" text-anchor="end">1.8</text><text transform="translate(161.00 390.74) scale(0.885 1)" font-size="34.3" text-anchor="end">1.9</text><text transform="translate(161.00 325.90) scale(0.915 1)" font-size="34.3" text-anchor="end">2</text><text transform="translate(161.00 261.06) scale(0.885 1)" font-size="34.3" text-anchor="end">2.1</text><text transform="translate(161.00 196.22) scale(0.885 1)" font-size="34.3" text-anchor="end">2.2</text><text transform="translate(1668.00 1622.40) scale(0.915 1)" font-size="34.3">10</text><text transform="translate(1668.00 1554.61) scale(0.885 1)" font-size="34.3">12.5</text><text transform="translate(1668.00 1486.82) scale(0.915 1)" font-size="34.3">15</text><text transform="translate(1668.00 1419.03) scale(0.885 1)" font-size="34.3">17.5</text><text transform="translate(1668.00 1351.24) scale(0.915 1)" font-size="34.3">20</text><text transform="translate(1668.00 1283.45) scale(0.885 1)" font-size="34.3">22.5</text><text transform="translate(1668.00 1215.66) scale(0.915 1)" font-size="34.3">25</text><text transform="translate(1668.00 1147.87) scale(0.885 1)" font-size="34.3">27.5</text><text transform="translate(1668.00 1080.08) scale(0.915 1)" font-size="34.3">30</text><text transform="translate(1668.00 1012.29) scale(0.885 1)" font-size="34.3">32.5</text><text transform="translate(1668.00 944.50) scale(0.915 1)" font-size="34.3">35</text><text transform="translate(1668.00 876.71) scale(0.885 1)" font-size="34.3">37.5</text><text transform="translate(1668.00 808.92) scale(0.915 1)" font-size="34.3">40</text><text transform="translate(1668.00 741.13) scale(0.885 1)" font-size="34.3">42.5</text><text transform="translate(1668.00 673.34) scale(0.915 1)" font-size="34.3">45</text><text transform="translate(1668.00 605.55) scale(0.885 1)" font-size="34.3">47.5</text><text transform="translate(1668.00 537.76) scale(0.915 1)" font-size="34.3">50</text><text transform="translate(1668.00 469.97) scale(0.885 1)" font-size="34.3">52.5</text><text transform="translate(1668.00 402.18) scale(0.915 1)" font-size="34.3">55</text><text transform="translate(1668.00 334.39) scale(0.885 1)" font-size="34.3">57.5</text><text transform="translate(1668.00 266.60) scale(0.915 1)" font-size="34.3">60</text><text transform="translate(1668.00 198.81) scale(0.885 1)" font-size="34.3">62.5</text><text transform="translate(1668.00 131.02) scale(0.915 1)" font-size="34.3">65</text>
<text x="914.6" y="28.3" font-size="38.3" text-anchor="middle" textLength="531" lengthAdjust="spacingAndGlyphs">Rear Wheel Vertical Travel (mm)</text>
<text x="914.6" y="1730.2" font-size="38.3" text-anchor="middle" textLength="531" lengthAdjust="spacingAndGlyphs">Rear Wheel Vertical Travel (mm)</text>
<text transform="translate(79.9 863.2) rotate(-90)" font-size="38.3" text-anchor="middle" textLength="221" lengthAdjust="spacingAndGlyphs">Wheel/Shock</text>
<text transform="translate(1780.2 862.2) rotate(-90)" font-size="38.3" text-anchor="middle" textLength="420" lengthAdjust="spacingAndGlyphs">Rear Wheel Rate (N/mm)</text>
</svg></body></html>
